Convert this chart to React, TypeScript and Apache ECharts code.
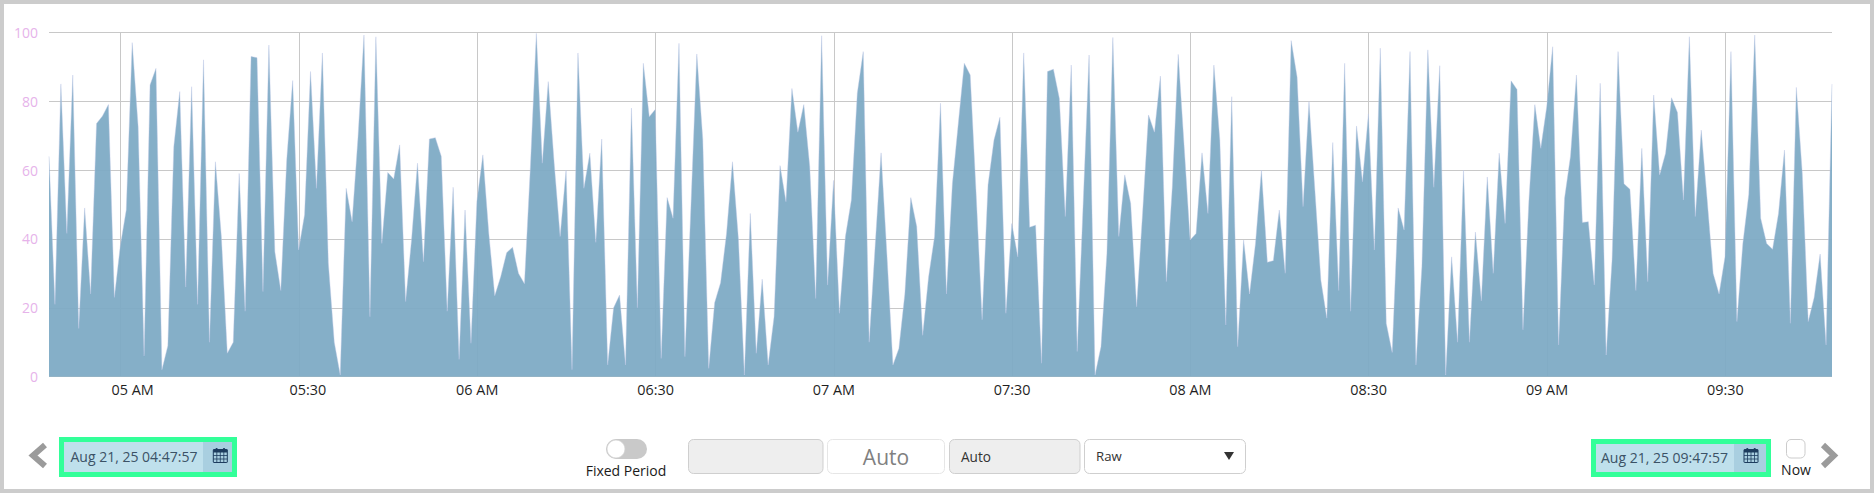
import React, { useEffect, useRef } from "react";
import * as echarts from "echarts";

const startLabel = "Aug 21, 25 04:47:57";
const endLabel = "Aug 21, 25 09:47:57";
const startTime = Date.UTC(2025, 7, 21, 4, 47, 57);
const stepMs = 60000;
const yTicks = [0, 20, 40, 60, 80, 100];
const timeTicks = [
  Date.UTC(2025, 7, 21, 5, 0), Date.UTC(2025, 7, 21, 5, 30), Date.UTC(2025, 7, 21, 6, 0),
  Date.UTC(2025, 7, 21, 6, 30), Date.UTC(2025, 7, 21, 7, 0), Date.UTC(2025, 7, 21, 7, 30),
  Date.UTC(2025, 7, 21, 8, 0), Date.UTC(2025, 7, 21, 8, 30), Date.UTC(2025, 7, 21, 9, 0),
  Date.UTC(2025, 7, 21, 9, 30),
];
const values0 = [
  64, 21, 85, 41.6, 87.6, 14, 49, 24, 73.5, 75.7, 79, 23, 38, 48.4, 97, 72.6, 6, 84.7, 89.5, 2,
  9, 66.8, 82.8, 26, 84.2, 21, 92, 10, 62.4, 40.7, 6.8, 10, 59, 19, 93, 92.6, 24.7, 96.3, 36.3, 25,
  63, 86, 36.8, 47, 88.6, 54.7, 94, 33, 10, 0.5, 54.7, 45, 69.7, 99.2, 17.4, 98.7, 38.7, 59.3, 57.4, 67.3,
  21.8, 39.7, 62, 33.4, 69, 69.4, 64, 19, 55, 5, 48.4,
];
const values1 = [
  9.7, 51, 64.4, 41.6, 23.5, 29, 36, 37.6, 30, 27, 61, 99.7, 62, 85.7, 62, 40.7, 60, 2, 94, 54.7,
  64.9, 39, 69, 3.4, 20, 23.7, 3.4, 78, 20, 91, 75.5, 77.6, 5.3, 52, 46, 96.8, 5.8, 49, 93.7, 69,
  2.4, 21.5, 27.3, 41.6, 62.4, 40, 0.5, 47.4, 6.8, 28.3, 3.4, 17.4, 61.3, 50.8, 83.7, 71, 79, 61, 22.7, 99,
  26.6, 57, 18.4, 40.7, 51.3, 82.3, 94.4, 10, 37.8, 65, 35, 3.4, 8.2, 24, 52, 43.6, 12, 29, 40.7,
];
const values2 = [
  79.4, 24, 56, 73.6, 91, 87.6, 53, 16.5, 55.7, 68.7, 75.3, 18.4, 44.5, 34.8, 94, 43.4, 44, 3.9, 88.6, 89.3,
  80.8, 46.5, 90.5, 7.3, 50, 93.4, 0.5, 8.7, 35.8, 98.5, 40.7, 58.6, 50.3, 20.3, 47.4, 76, 71, 87.3, 27.6, 55,
  93.6, 66.8, 39.7, 41.6, 65, 47.4, 90.5, 68.7, 15, 81.3, 8.7, 39.7, 24, 38.7, 60, 33.2, 33.7, 48.4, 30, 97.6,
  87, 49.4, 79.9, 54, 28, 17, 68, 25, 91, 19, 72.8, 56.6, 76.3, 36.8, 95.4, 15.5, 7, 49, 42.6,
];
const values3 = [
  94.4, 3.4, 32, 94.9, 55, 90.3, 0.5, 34.8, 10, 60, 10, 42, 22, 58, 30, 64.9, 44.5, 85.9, 83.4, 13.6,
  51, 79, 66.3, 78.4, 95.8, 9.2, 51.8, 64, 87.6, 44.8, 45, 26.6, 85.2, 6.3, 34, 94.4, 56, 54.4, 25, 66.3,
  27.6, 81.8, 58.6, 64.9, 81, 76.7, 51.3, 98.7, 46.5, 71.6, 51.3, 30, 24, 34.8, 94.4, 16, 38.7, 53, 99.2, 46,
  38.7, 37, 47.4, 65.8, 15.5, 84, 59, 16, 23, 35.6, 9.2, 85,
];
const seriesValues = [...values0, ...values1, ...values2, ...values3];
const seriesData = seriesValues.map((v, i) => [startTime + i * stepMs, v]);

const FONT = '"Open Sans", "Noto Sans", sans-serif';

const txt = (x: number, y: number, text: string, fontSize: number, fill: string, align = "left") => ({
  type: "text", x, y, silent: true,
  style: { text, fontSize, fontFamily: FONT, fill, align, verticalAlign: "middle" },
});
const box = (x0: number, y0: number, x1: number, y1: number, fill: string, stroke: string | null, r = 0, lw = 1) => ({
  type: "rect", silent: true,
  shape: { x: x0, y: y0, width: x1 - x0, height: y1 - y0, r },
  style: stroke ? { fill, stroke, lineWidth: lw } : { fill },
});
const calendar = (x: number, y: number) => {
  const navy = "#1d3c5e", w = 14, h = 14.5;
  const lines: any[] = [];
  [1, 2, 3].forEach((k) => lines.push({ type: "line", silent: true, shape: { x1: x + (k * w) / 4, y1: y + 3, x2: x + (k * w) / 4, y2: y + h }, style: { stroke: navy, lineWidth: 0.8 } }));
  [1, 2].forEach((k) => lines.push({ type: "line", silent: true, shape: { x1: x, y1: y + 4 + (k * (h - 4)) / 3, x2: x + w, y2: y + 4 + (k * (h - 4)) / 3 }, style: { stroke: navy, lineWidth: 0.8 } }));
  return [
    box(x, y + 1.5, x + w, y + h, "#a9cfe0", navy, 0.5, 1),
    box(x, y + 1.5, x + w, y + 4.5, navy, null),
    box(x + 2.2, y, x + 4.4, y + 3.5, navy, null, 1),
    box(x + 9.6, y, x + 11.8, y + 3.5, navy, null, 1),
    ...lines,
  ];
};
const chevron = (pts: number[][]) => ({
  type: "polyline", silent: true, shape: { points: pts },
  style: { stroke: "#9b9b9b", lineWidth: 6, fill: "none", lineJoin: "miter", lineCap: "butt" },
});

const controls: any[] = [
  box(2, 2, 1872, 491, "none", "#cccccc", 0, 4),
  chevron([[45, 445], [33, 455.5], [45, 466]]),
  box(59, 437, 237, 477, "#33ff99", null),
  box(64, 442, 203, 472, "#bfe0ec", null),
  box(203, 442, 232, 472, "#a9cfe0", null),
  txt(70.5, 456.5, startLabel, 14, "#3b5266"),
  ...calendar(213.3, 448),
  box(606, 439, 647, 459, "#c9c9c9", null, 10),
  { type: "circle", silent: true, shape: { cx: 616, cy: 449, r: 9 }, style: { fill: "#fff", stroke: "#cfcfcf", lineWidth: 0.8 } },
  txt(626, 470.5, "Fixed Period", 14, "#1a1a1a", "center"),
  box(688.5, 439.5, 823, 473.5, "#eeeeee", "#cfcfcf", 5),
  box(827.5, 439.5, 944.5, 473.5, "#ffffff", "#e6e6e6", 5),
  txt(886, 457, "Auto", 21, "#808080", "center"),
  box(949.5, 439.5, 1080, 473.5, "#eeeeee", "#cfcfcf", 5),
  txt(961, 456, "Auto", 13.6, "#333333"),
  box(1084.5, 439.5, 1245.5, 473.5, "#ffffff", "#cfcfcf", 5),
  txt(1096, 456, "Raw", 13.2, "#333333"),
  { type: "polygon", silent: true, shape: { points: [[1224, 452], [1234, 452], [1229, 460]] }, style: { fill: "#333333" } },
  box(1591, 439, 1771, 477, "#33ff99", null),
  box(1596, 444, 1734, 472, "#bfe0ec", null),
  box(1734, 444, 1766, 472, "#a9cfe0", null),
  txt(1601, 457, endLabel, 14, "#3b5266"),
  ...calendar(1744, 448),
  box(1786.5, 439.5, 1805, 458, "#ffffff", "#cccccc", 4.5),
  txt(1796, 469.5, "Now", 14, "#1a1a1a", "center"),
  chevron([[1823, 445], [1834, 455.5], [1823, 466]]),
];

const hourLabel = (t: number) => {
  const d = new Date(t);
  const h = String(d.getUTCHours()).padStart(2, "0");
  if (d.getUTCMinutes() === 0) return `${h} AM`;
  return `${h}:${String(d.getUTCMinutes()).padStart(2, "0")}`;
};

export default function App() {
  const ref = useRef<HTMLDivElement>(null);
  useEffect(() => {
    if (!ref.current) return;
    const chart = echarts.init(ref.current, undefined, { renderer: "svg" });
    chart.setOption({
      animation: false,
      backgroundColor: "#ffffff",
      textStyle: { fontFamily: FONT },
      grid: { left: 49, right: 42, top: 32.3, bottom: 116.3 },
      xAxis: {
        type: "value",
        min: startTime,
        max: startTime + (seriesValues.length - 1) * stepMs,
        axisLine: { show: false },
        axisTick: { show: false, customValues: timeTicks },
        splitLine: { show: true, lineStyle: { color: "#c8c8c8", width: 1 } },
        axisLabel: {
          customValues: timeTicks,
          margin: 6,
          fontSize: 14.4,
          color: "#1f1f1f",
          fontFamily: FONT,
          hideOverlap: false,
          showMinLabel: true,
          showMaxLabel: true,
          formatter: (v: number) => {
            const s = hourLabel(v);
            if (v === timeTicks[0]) return `{a|${s}}`;
            if (v === timeTicks[1]) return `{b|${s}}`;
            return s;
          },
          rich: {
            a: { padding: [0, 0, 0, 24], fontSize: 14.4, color: "#1f1f1f", fontFamily: FONT },
            b: { padding: [0, 0, 0, 18], fontSize: 14.4, color: "#1f1f1f", fontFamily: FONT },
          },
        },
      },
      yAxis: {
        type: "value",
        min: yTicks[0],
        max: yTicks[yTicks.length - 1],
        interval: yTicks[1] - yTicks[0],
        axisLine: { show: false },
        axisTick: { show: false },
        splitLine: { show: true, lineStyle: { color: "#c8c8c8", width: 1 } },
        axisLabel: { margin: 11, fontSize: 14, color: "#e6b3ea", fontFamily: FONT },
      },
      series: [
        {
          type: "line",
          data: seriesData,
          showSymbol: false,
          symbol: "none",
          smooth: false,
          lineStyle: { color: "rgba(190,200,232,0.6)", width: 0.7 },
          areaStyle: { color: "rgba(126,171,197,0.95)", opacity: 1 },
          emphasis: { disabled: true },
        },
      ],
      graphic: { elements: controls },
    });
    return () => chart.dispose();
  }, []);
  return <div ref={ref} style={{ position: "absolute", left: 0, top: 0, width: 1874, height: 493 }} />;
}
